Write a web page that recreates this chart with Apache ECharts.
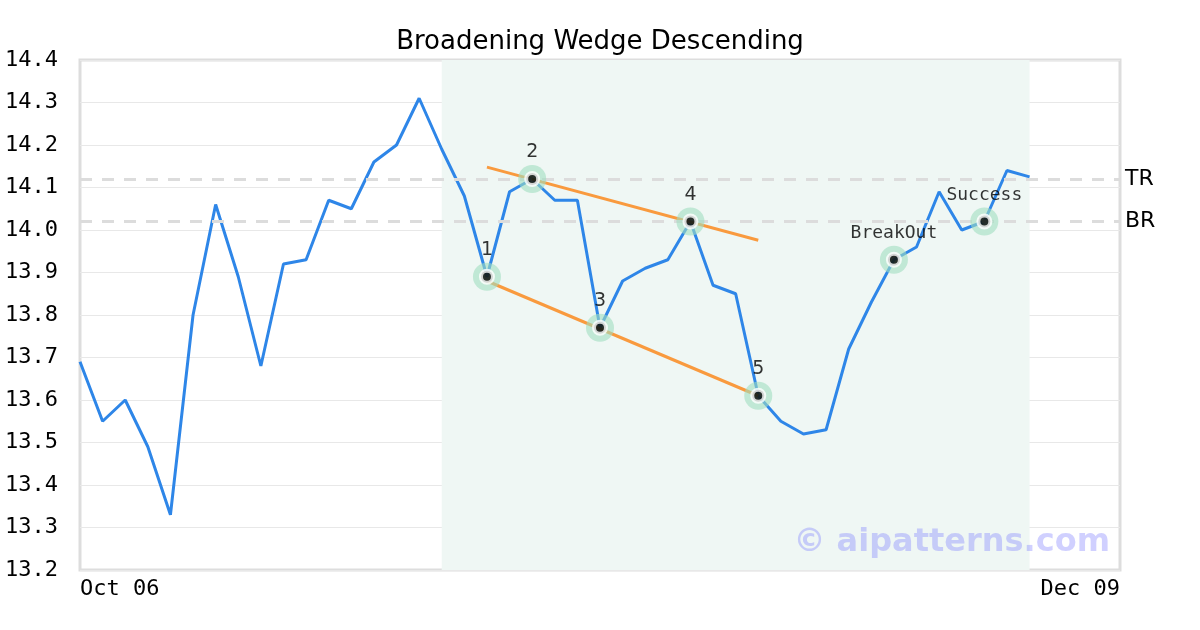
<!DOCTYPE html>
<html>
<head>
<meta charset="utf-8">
<script src="https://cdn.jsdelivr.net/npm/echarts@6/dist/echarts.min.js"></script>
<style>html,body{margin:0;padding:0;background:#fff}#c{width:1200px;height:630px}</style>
</head>
<body>
<div id="c"></div>
<script>
const categories = [
  "Oct 06","Oct 07","Oct 08","Oct 09","Oct 10","Oct 13","Oct 14","Oct 15","Oct 16","Oct 17",
  "Oct 20","Oct 21","Oct 22","Oct 23","Oct 24","Oct 27","Oct 28","Oct 29","Oct 30","Oct 31",
  "Nov 03","Nov 04","Nov 05","Nov 06","Nov 07","Nov 10","Nov 11","Nov 12","Nov 13","Nov 14",
  "Nov 17","Nov 18","Nov 19","Nov 20","Nov 21","Nov 24","Nov 25","Nov 26","Nov 27","Nov 28",
  "Dec 01","Dec 02","Dec 03","Dec 04","Dec 05","Dec 08","Dec 09"
];
const prices = [
  13.69,13.55,13.60,13.49,13.33,13.80,14.06,13.89,13.68,13.92,
  13.93,14.07,14.05,14.16,14.20,14.31,14.19,14.08,13.89,14.09,
  14.12,14.07,14.07,13.77,13.88,13.91,13.93,14.02,13.87,13.85,
  13.61,13.55,13.52,13.53,13.72,13.83,13.93,13.96,14.09,14.00,
  14.02,14.14,14.125
];
const patternPoints = [
  [18, 13.89, "1"], [20, 14.12, "2"], [23, 13.77, "3"], [27, 14.02, "4"], [30, 13.61, "5"]
];
const signalPoints = [
  [36, 13.93, "BreakOut"], [40, 14.02, "Success"]
];
const upperLine = [[18, 14.148], [30, 13.976]];
const lowerLine = [[18, 13.88], [30, 13.61]];
const levels = [["TR", 14.12], ["BR", 14.02]];
const zoneRange = [16, 42];
const yTicks = { min: 13.2, max: 14.4, interval: 0.1 };

const mono = "DejaVu Sans Mono";
const sans = "DejaVu Sans";

const chart = echarts.init(document.getElementById('c'), null, { renderer: 'canvas' });

const allPoints = patternPoints.concat(signalPoints);
const haloData = allPoints.map((p, i) => ({
  value: [p[0], p[1]],
  label: {
    formatter: p[2],
    color: '#000',
    fontFamily: i < patternPoints.length ? sans : mono,
    fontSize: i < patternPoints.length ? 19 : 18
  }
}));

chart.setOption({
  animation: false,
  backgroundColor: '#fff',
  title: {
    text: 'Broadening Wedge Descending',
    left: 'center', top: 24,
    textStyle: { fontFamily: sans, fontSize: 26, fontWeight: 'normal', color: '#000' }
  },
  grid: {
    left: 80, right: 80, top: 60, bottom: 60,
    show: true, borderColor: '#ddd', borderWidth: 3, backgroundColor: 'transparent'
  },
  xAxis: {
    type: 'category',
    data: categories,
    boundaryGap: false,
    axisLine: { show: false },
    axisTick: { show: false },
    splitLine: { show: false },
    axisLabel: {
      interval: (i) => i === 0 || i === categories.length - 1,
      showMinLabel: true, showMaxLabel: true,
      alignMinLabel: 'left', alignMaxLabel: 'right',
      fontFamily: mono, fontSize: 22, color: '#000', margin: 8
    }
  },
  yAxis: {
    type: 'value',
    min: yTicks.min, max: yTicks.max, interval: yTicks.interval,
    axisLine: { show: false },
    axisTick: { show: false },
    splitLine: { show: true, lineStyle: { color: '#e8e8e8', width: 1 } },
    axisLabel: {
      formatter: v => v.toFixed(1),
      fontFamily: mono, fontSize: 22, color: '#000', margin: 22,
      padding: [10, 0, 0, 0]
    }
  },
  graphic: [{
    type: 'text', right: 90, top: 527, z: 100,
    style: { text: '© aipatterns.com', fontFamily: sans, fontWeight: 'bold', fontSize: 32, fill: 'rgba(120,120,255,0.35)' }
  }],
  series: [
    {
      type: 'line',
      data: prices,
      showSymbol: false,
      lineStyle: { color: '#2e86e8', width: 3 },
      z: 3,
      markArea: {
        silent: true,
        itemStyle: { color: '#eff7f4' },
        data: [[{ xAxis: zoneRange[0] }, { xAxis: zoneRange[1] }]]
      },
      markLine: {
        silent: true,
        symbol: 'none',
        lineStyle: { color: '#dcdcdc', width: 3, type: [12, 10] },
        label: { position: 'end', fontFamily: sans, fontSize: 22, color: '#000', distance: 5, formatter: p => p.name },
        data: levels.map(l => ({ name: l[0], yAxis: l[1] }))
      }
    },
    {
      type: 'line', data: upperLine, showSymbol: false, z: 4,
      lineStyle: { color: '#f99a3e', width: 3 }
    },
    {
      type: 'line', data: lowerLine, showSymbol: false, z: 4,
      lineStyle: { color: '#f99a3e', width: 3 }
    },
    {
      type: 'scatter', data: haloData, symbolSize: 28, z: 5,
      itemStyle: { color: 'rgba(160,222,192,0.75)' },
      label: {
        show: true, position: 'top', distance: 3,
        color: '#000'
      }
    },
    {
      type: 'scatter', data: allPoints.map(p => [p[0], p[1]]), symbolSize: 12, z: 6,
      itemStyle: { color: '#000', borderColor: '#fff', borderWidth: 4 }
    }
  ]
});
</script>
</body>
</html>
